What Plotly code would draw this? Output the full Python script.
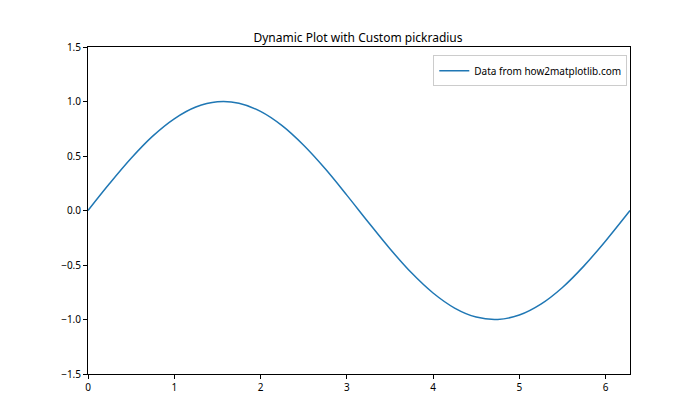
import plotly.graph_objects as go

x_vals = [0, 0.25, 0.5, 0.75, 1.0, 1.25, 1.5, 1.75, 2.0, 2.25, 2.5, 2.75, 3.0,
          3.25, 3.5, 3.75, 4.0, 4.25, 4.5, 4.75, 5.0, 5.25, 5.5, 5.75, 6.0, 6.283]
y_vals = [0, 0.247, 0.479, 0.682, 0.841, 0.949, 0.997, 0.984, 0.909, 0.778, 0.598, 0.382, 0.141,
          -0.108, -0.351, -0.572, -0.757, -0.895, -0.978, -0.999, -0.959, -0.859, -0.706, -0.508, -0.279, 0]

title_text = "Dynamic Plot with Custom pickradius"
series_name = "Data from how2matplotlib.com"

fig = go.Figure()
fig.add_trace(go.Scatter(x=x_vals, y=y_vals, mode="lines", name=series_name,
                         line=dict(color="#1f77b4", width=1.5, shape="spline", smoothing=1.0)))

axis_common = dict(showline=True, linecolor="black", linewidth=1, mirror=True,
                   ticks="outside", ticklen=4, tickcolor="black", showgrid=False,
                   zeroline=False, tickfont=dict(size=10, color="black"))

fig.update_layout(
    width=700, height=420,
    paper_bgcolor="white", plot_bgcolor="white",
    font=dict(family="Noto Sans, DejaVu Sans, sans-serif", color="black"),
    title=dict(text=title_text, x=0.5, xanchor="center", y=1 - 30/420, yanchor="middle",
               font=dict(size=12)),
    margin=dict(l=80, r=78, t=39, b=54),
    showlegend=True,
    legend=dict(x=0.995, xanchor="right", y=0.975, yanchor="top",
                bordercolor="#cccccc", borderwidth=1, bgcolor="white",
                font=dict(size=10)),
    xaxis=dict(range=[0, 6.283], tickmode="linear", tick0=0, dtick=1, **axis_common),
    yaxis=dict(range=[-1.5, 1.5], tickmode="linear", tick0=-1.5, dtick=0.5,
               tickformat=".1f", **axis_common),
)

fig.write_html("out.html")
